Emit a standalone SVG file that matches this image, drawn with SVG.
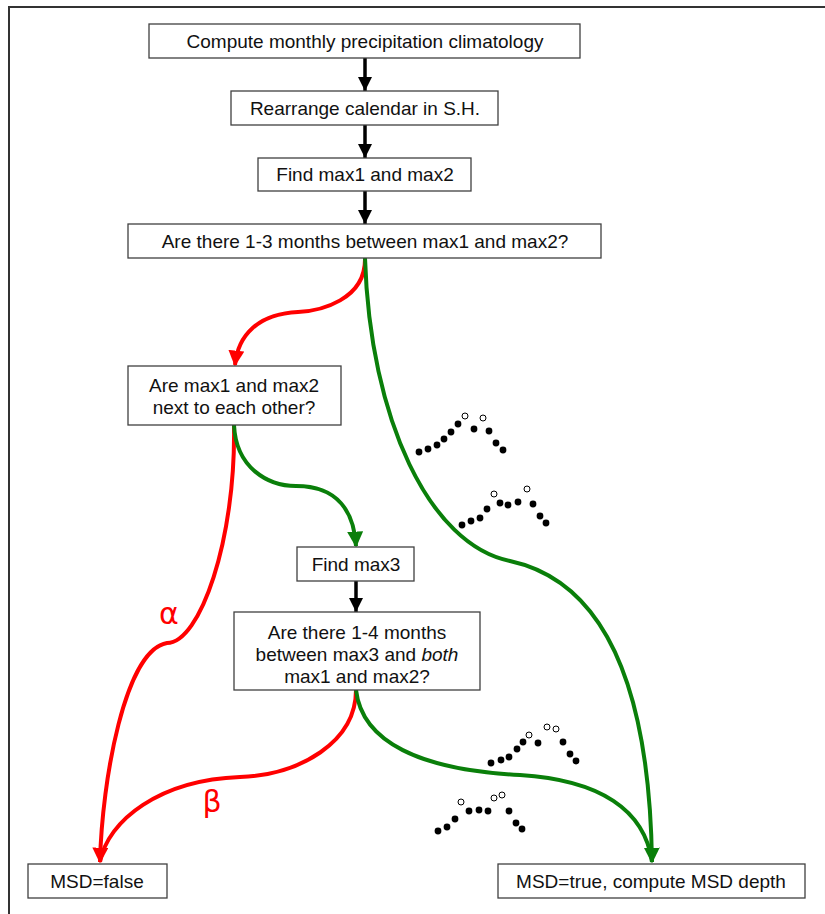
<svg xmlns="http://www.w3.org/2000/svg" width="825" height="914" viewBox="0 0 825 914">
<defs>
<style>
.box{fill:#fff;stroke:#404040;stroke-width:1.3}
.t{font-family:"Liberation Sans",Arial,sans-serif;font-size:19px;fill:#111;text-anchor:middle}
.blk{stroke:#000;stroke-width:3.5;fill:none}
.red{stroke:#ff0000;stroke-width:4;fill:none}
.grn{stroke:#0a7f0a;stroke-width:4;fill:none}
.greek{font-family:"DejaVu Sans","Liberation Sans",sans-serif;font-size:30px;fill:#ff0000;text-anchor:middle}
.f{fill:#000}
.o{fill:#fff;stroke:#000;stroke-width:1}
</style>
<marker id="ab" viewBox="0 0 10 10" refX="10" refY="5" markerWidth="14" markerHeight="14" markerUnits="userSpaceOnUse" orient="auto"><path d="M0,0 L10,5 L0,10 z" fill="#000"/></marker>
<marker id="ar" viewBox="0 0 10 10" refX="9" refY="5" markerWidth="16" markerHeight="16" markerUnits="userSpaceOnUse" orient="auto"><path d="M0,0 L10,5 L0,10 z" fill="#ff0000"/></marker>
<marker id="ag" viewBox="0 0 10 10" refX="9" refY="5" markerWidth="16" markerHeight="16" markerUnits="userSpaceOnUse" orient="auto"><path d="M0,0 L10,5 L0,10 z" fill="#0a7f0a"/></marker>
</defs>
<rect x="0" y="0" width="825" height="914" fill="#fff"/>
<path d="M9,914 V7 H825" fill="none" stroke="#333" stroke-width="2"/>

<g id="connectors">
<line class="blk" x1="365" y1="58" x2="365" y2="91" marker-end="url(#ab)"/>
<line class="blk" x1="365" y1="125" x2="365" y2="158" marker-end="url(#ab)"/>
<line class="blk" x1="365" y1="191" x2="365" y2="224" marker-end="url(#ab)"/>
<line class="blk" x1="356" y1="581" x2="356" y2="612" marker-end="url(#ab)"/>
<path class="red" d="M365,258 C366,300 320,311 298,312 C258,314 238,335 235,365" marker-end="url(#ar)"/>
<path class="grn" d="M365,258 C370,420 430,545 510,561 C620,585 650,720 652,862" marker-end="url(#ag)"/>
<path class="red" d="M234,425 C236,540 200,643 167,643 C125,650 102,780 100,862" marker-end="url(#ar)"/>
<path class="grn" d="M234,425 C236,468 268,486 296,486 C338,486 354,512 356,546" marker-end="url(#ag)"/>
<path class="red" d="M356,690 C356,742 300,775 240,777 C160,780 108,820 100,862"/>
<path class="grn" d="M356,690 C362,742 420,770 520,775 C600,780 645,810 652,862"/>
<text class="greek" x="169" y="624">α</text>
<text class="greek" x="212" y="812">β</text>
</g>

<g id="n1"><rect class="box" x="149" y="24" width="431" height="34"/><text class="t" x="365" y="48">Compute monthly precipitation climatology</text></g>
<g id="n2"><rect class="box" x="231" y="91" width="267" height="34"/><text class="t" x="365" y="115">Rearrange calendar in S.H.</text></g>
<g id="n3"><rect class="box" x="258" y="158" width="213" height="33"/><text class="t" x="365" y="181">Find max1 and max2</text></g>
<g id="n4"><rect class="box" x="128" y="224" width="473" height="34"/><text class="t" x="365" y="248">Are there 1-3 months between max1 and max2?</text></g>
<g id="n5"><rect class="box" x="128" y="366" width="213" height="59"/><text class="t" x="234" y="392">Are max1 and max2</text><text class="t" x="234" y="414">next to each other?</text></g>
<g id="n6"><rect class="box" x="297" y="547" width="117" height="34"/><text class="t" x="356" y="571">Find max3</text></g>
<g id="n7"><rect class="box" x="234" y="612" width="246" height="78"/><text class="t" x="357" y="639">Are there 1-4 months</text><text class="t" x="357" y="661">between max3 and <tspan font-style="italic">both</tspan></text><text class="t" x="357" y="683">max1 and max2?</text></g>
<g id="n8"><rect class="box" x="28" y="864" width="139" height="34"/><text class="t" x="97" y="888">MSD=false</text></g>
<g id="n9"><rect class="box" x="498" y="864" width="307" height="34"/><text class="t" x="651" y="888">MSD=true, compute MSD depth</text></g>

<g id="dots1">
<circle class="f" cx="419" cy="452" r="3.4"/><circle class="f" cx="428" cy="449" r="3.4"/><circle class="f" cx="437" cy="445" r="3.4"/><circle class="f" cx="444" cy="439" r="3.4"/><circle class="f" cx="451" cy="432" r="3.4"/><circle class="f" cx="458" cy="424" r="3.4"/><circle class="o" cx="465" cy="416" r="3"/><circle class="f" cx="474" cy="429" r="3.4"/><circle class="o" cx="483" cy="418" r="3"/><circle class="f" cx="489" cy="431" r="3.4"/><circle class="f" cx="496" cy="443" r="3.4"/><circle class="f" cx="503" cy="450" r="3.4"/>
</g>
<g id="dots2">
<circle class="f" cx="462" cy="525" r="3.4"/><circle class="f" cx="471" cy="521" r="3.4"/><circle class="f" cx="480" cy="518" r="3.4"/><circle class="f" cx="487" cy="509" r="3.4"/><circle class="o" cx="494" cy="494" r="3"/><circle class="f" cx="500" cy="503" r="3.4"/><circle class="f" cx="508" cy="505" r="3.4"/><circle class="f" cx="518" cy="502" r="3.4"/><circle class="o" cx="527" cy="489" r="3"/><circle class="f" cx="533" cy="504" r="3.4"/><circle class="f" cx="540" cy="516" r="3.4"/><circle class="f" cx="546" cy="523" r="3.4"/>
</g>
<g id="dots3">
<circle class="f" cx="491" cy="763" r="3.4"/><circle class="f" cx="501" cy="760" r="3.4"/><circle class="f" cx="509" cy="757" r="3.4"/><circle class="f" cx="517" cy="749" r="3.4"/><circle class="f" cx="523" cy="742" r="3.4"/><circle class="o" cx="529" cy="735" r="3"/><circle class="f" cx="538" cy="743" r="3.4"/><circle class="o" cx="547" cy="727" r="3"/><circle class="o" cx="556" cy="729" r="3"/><circle class="f" cx="563" cy="742" r="3.4"/><circle class="f" cx="570" cy="754" r="3.4"/><circle class="f" cx="576" cy="761" r="3.4"/>
</g>
<g id="dots4">
<circle class="f" cx="438" cy="831" r="3.4"/><circle class="f" cx="447" cy="827" r="3.4"/><circle class="f" cx="455" cy="819" r="3.4"/><circle class="o" cx="461" cy="802" r="3"/><circle class="f" cx="469" cy="811" r="3.4"/><circle class="f" cx="479" cy="810" r="3.4"/><circle class="f" cx="488" cy="811" r="3.4"/><circle class="o" cx="494" cy="798" r="3"/><circle class="o" cx="502" cy="795" r="3"/><circle class="f" cx="509" cy="811" r="3.4"/><circle class="f" cx="516" cy="823" r="3.4"/><circle class="f" cx="522" cy="829" r="3.4"/>
</g>
</svg>
